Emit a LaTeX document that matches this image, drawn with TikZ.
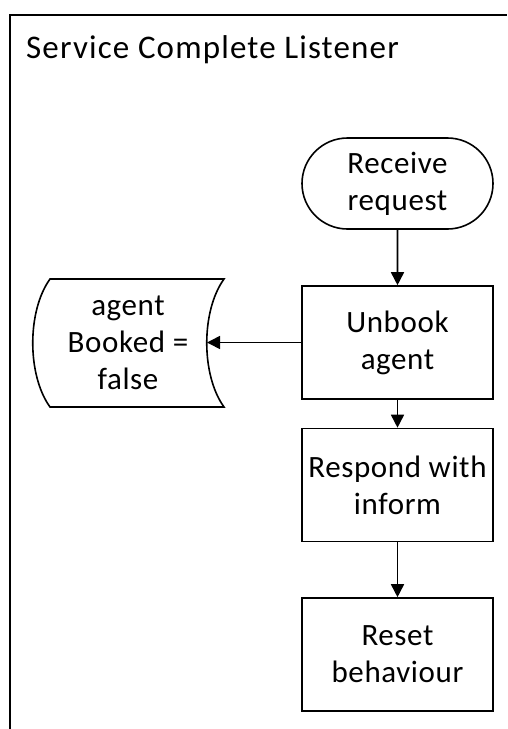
\documentclass[tikz,border=0pt]{standalone}
\usepackage{fontspec}
\setmainfont{Carlito}
\usetikzlibrary{arrows.meta,shapes.misc}
\tikzset{
  flow/.style={line width=1.6pt},
  proc/.style={flow,draw,minimum width=191pt,minimum height=113pt,align=center,inner sep=0pt},
  term/.style={flow,draw,rounded rectangle,minimum width=191pt,minimum height=91pt,align=center,inner sep=0pt},
  txt/.style={align=center,font=\fontsize{31}{37}\selectfont\addfontfeatures{LetterSpace=2}},
  link/.style={flow,-{Triangle[length=13pt,width=13pt]}}
}
\begin{document}
\begin{tikzpicture}[x=1pt,y=-1pt]
\useasboundingbox (0,0) rectangle (507,729);
% swimlane frame
\draw[line width=1.8pt] (10,729) -- (10,15) -- (507,15);
\node[anchor=base west,font=\fontsize{33}{37}\selectfont\addfontfeatures{LetterSpace=3.5},inner sep=0pt] (title) at (26,58) {Service Complete Listener};
% flow nodes
\node[term,txt] (recv) at (397.5,183.5) {Receive\\request};
\node[proc,txt] (unbook) at (397.5,342.5) {Unbook\\agent};
\node[proc,txt] (respond) at (397.5,485) {Respond with\\inform};
\node[proc,txt] (reset) at (397.5,654.5) {Reset\\behaviour};
% stored data shape
\draw[flow] (50,279) -- (224,279) .. controls (201,311) and (201,375) .. (224,407)
  -- (50,407) .. controls (27,375) and (27,311) .. (50,279) -- cycle;
\coordinate (storein) at (207,342.5);
\node[txt] (store) at (128,342.5) {agent\\Booked =\\false};
% connectors
\draw[link] (recv) -- (unbook);
\draw[link] (unbook) -- (respond);
\draw[link] (respond) -- (reset);
\draw[link] (unbook.west) -- (storein);
\end{tikzpicture}
\end{document}
